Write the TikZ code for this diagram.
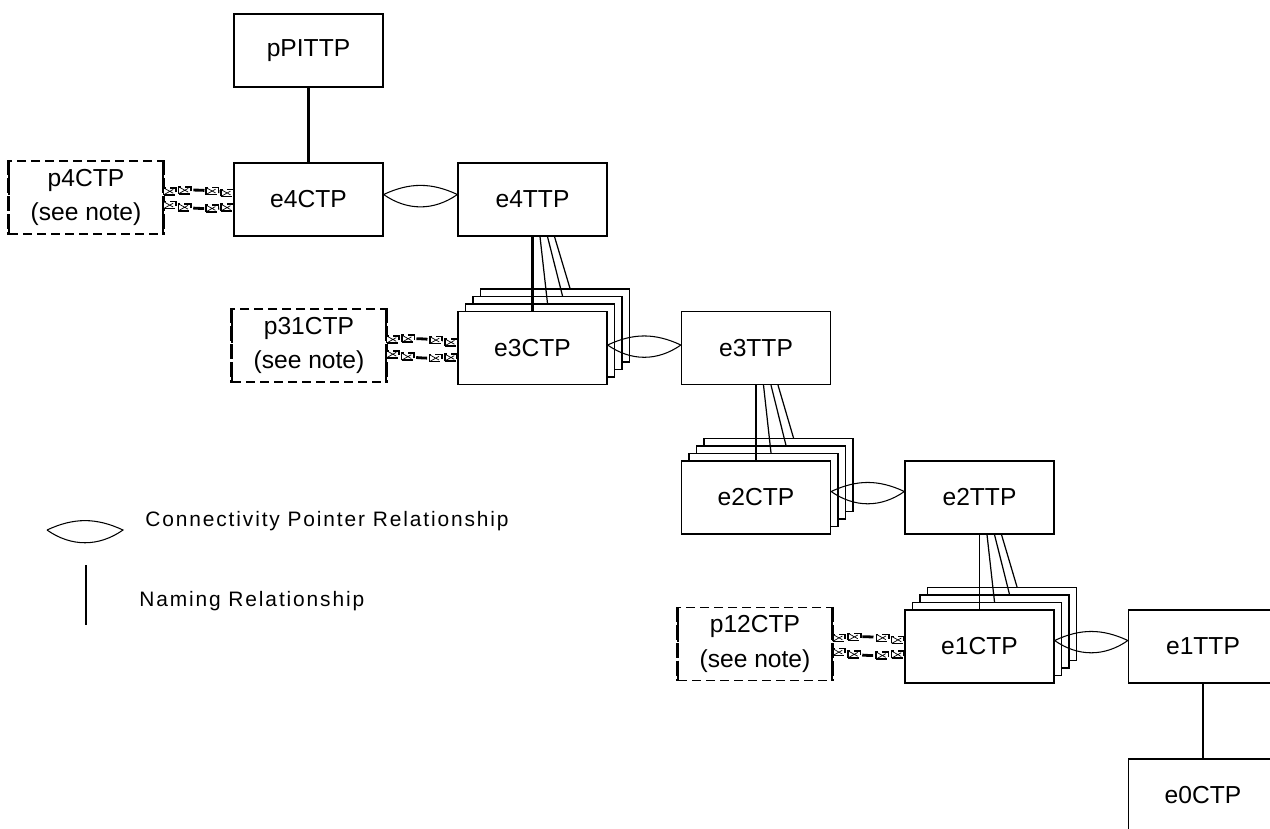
\documentclass[tikz,border=0pt]{standalone}
\usepackage{fontspec}
\setmainfont{Liberation Sans}
\newfontfamily\keyfont[LetterSpace=9]{Liberation Sans}
\usepackage{tikz}

\begin{document}
\begin{tikzpicture}[
    font=\fontsize{14}{17.6}\selectfont,
    box/.style={draw, fill=white, line width=0.7pt, minimum width=2.98cm, minimum height=1.46cm, inner sep=0pt, align=center},
    note/.style={draw, line width=0.6pt, dash pattern=on 0.18cm off 0.1cm, minimum width=3.08cm, minimum height=1.46cm, inner sep=0pt, align=center, font=\fontsize{14}{19.5}\selectfont},
    noteside/.style={line width=1.3pt, dash pattern=on 0.3cm off 0.06cm},
    named/.style={line width=0.7pt},
    namedthick/.style={line width=1.4pt},
    ptr/.style={line width=0.6pt},
    link/.style={line width=1.6pt, dash pattern=on 0.22cm off 0.08cm},
    xbox/.style={draw, fill=white, line width=0.9pt, inner sep=0pt, minimum width=0.25cm, minimum height=0.14cm,
      path picture={\draw[line width=0.4pt] (path picture bounding box.south west) -- (path picture bounding box.north east)
        (path picture bounding box.north west) -- (path picture bounding box.south east);}},
    key/.style={anchor=west, inner sep=0pt, font=\keyfont\fontsize{11.9}{14}\selectfont}
  ]
  \useasboundingbox (0,0) rectangle (25.4,-16.56);
  \clip (0,0) rectangle (25.4,-16.56);

  \node[box] (ppi) at (6.17,-1.01) {pPITTP};
  \node[box] (e4c) at (6.17,-3.99) {e4CTP};
  \node[box] (e4t) at (10.65,-3.99) {e4TTP};

  \node[box] (e3c3) at (11.10,-6.51) {};
  \node[box] (e3c2) at (10.95,-6.66) {};
  \node[box] (e3c1) at (10.80,-6.81) {};
  \node[box] (e3c) at (10.65,-6.96) {e3CTP};
  \node[box] (e3t) at (15.12,-6.96) {e3TTP};

  \node[box] (e2c3) at (15.57,-9.50) {};
  \node[box] (e2c2) at (15.42,-9.65) {};
  \node[box] (e2c1) at (15.27,-9.80) {};
  \node[box] (e2c) at (15.12,-9.95) {e2CTP};
  \node[box] (e2t) at (19.59,-9.95) {e2TTP};

  \node[box] (e1c3) at (20.04,-12.48) {};
  \node[box] (e1c2) at (19.89,-12.63) {};
  \node[box] (e1c1) at (19.74,-12.78) {};
  \node[box] (e1c) at (19.59,-12.93) {e1CTP};
  \node[box] (e1t) at (24.06,-12.93) {e1TTP};
  \node[box] (e0c) at (24.06,-15.91) {e0CTP};

  \node[note] (p4) at (1.72,-3.95) {p4CTP\\(see note)};
  \node[note] (p31) at (6.18,-6.91) {p31CTP\\(see note)};
  \node[note] (p12) at (15.10,-12.88) {p12CTP\\(see note)};
  \draw[noteside] (p4.north west) -- (p4.south west) (p4.north east) -- (p4.south east);
  \draw[noteside] (p31.north west) -- (p31.south west) (p31.north east) -- (p31.south east);
  \draw[noteside] (p12.north west) -- (p12.south west) (p12.north east) -- (p12.south east);

  \draw[namedthick] (ppi) -- (e4c);
  \draw[namedthick] (e4t) -- (e3c);
  \draw[named] ([xshift=0.15cm]e4t.south) -- ([xshift=0.15cm]e3c1.north);
  \draw[named] ([xshift=0.3cm]e4t.south) -- ([xshift=0.3cm]e3c2.north);
  \draw[named] ([xshift=0.44cm]e4t.south) -- ([xshift=0.3cm]e3c3.north);
  \draw[named] (e3t) -- (e2c);
  \draw[named] ([xshift=0.15cm]e3t.south) -- ([xshift=0.15cm]e2c1.north);
  \draw[named] ([xshift=0.3cm]e3t.south) -- ([xshift=0.3cm]e2c2.north);
  \draw[named] ([xshift=0.44cm]e3t.south) -- ([xshift=0.3cm]e2c3.north);
  \draw[named] (e2t) -- (e1c);
  \draw[named] ([xshift=0.15cm]e2t.south) -- ([xshift=0.15cm]e1c1.north);
  \draw[named] ([xshift=0.3cm]e2t.south) -- ([xshift=0.3cm]e1c2.north);
  \draw[named] ([xshift=0.44cm]e2t.south) -- ([xshift=0.3cm]e1c3.north);
  \draw[namedthick] (e1t) -- (e0c);

  \draw[ptr] ([yshift=0.1cm]e4c.east) to[bend left=25] ([yshift=0.1cm]e4t.west) to[bend left=35] ([yshift=0.1cm]e4c.east);
  \draw[ptr] ([yshift=0.06cm]e3c.east) to[bend left=25] ([yshift=0.06cm]e3t.west) to[bend left=35] ([yshift=0.06cm]e3c.east);
  \draw[ptr] ([yshift=0.12cm]e2c.east) to[bend left=25] ([yshift=0.12cm]e2t.west) to[bend left=35] ([yshift=0.12cm]e2c.east);
  \draw[ptr] ([yshift=0.12cm]e1c.east) to[bend left=25] ([yshift=0.12cm]e1t.west) to[bend left=35] ([yshift=0.12cm]e1c.east);

  \draw[link] ([yshift=0.11cm]p4.east) to[bend left=8] node[xbox,pos=0.08]{} node[xbox,pos=0.29]{} node[xbox,pos=0.71]{} node[xbox,pos=0.92]{} ([yshift=0.11cm]e4c.west);
  \draw[link] ([yshift=-0.13cm]p4.east) to[bend right=8] node[xbox,pos=0.08]{} node[xbox,pos=0.29]{} node[xbox,pos=0.71]{} node[xbox,pos=0.92]{} ([yshift=-0.15cm]e4c.west);
  \draw[link] ([yshift=0.11cm]p31.east) to[bend left=8] node[xbox,pos=0.08]{} node[xbox,pos=0.29]{} node[xbox,pos=0.71]{} node[xbox,pos=0.92]{} ([yshift=0.09cm]e3c.west);
  \draw[link] ([yshift=-0.15cm]p31.east) to[bend right=8] node[xbox,pos=0.08]{} node[xbox,pos=0.29]{} node[xbox,pos=0.71]{} node[xbox,pos=0.92]{} ([yshift=-0.18cm]e3c.west);
  \draw[link] ([yshift=0.11cm]p12.east) to[bend left=8] node[xbox,pos=0.08]{} node[xbox,pos=0.29]{} node[xbox,pos=0.71]{} node[xbox,pos=0.92]{} ([yshift=0.11cm]e1c.west);
  \draw[link] ([yshift=-0.14cm]p12.east) to[bend right=8] node[xbox,pos=0.08]{} node[xbox,pos=0.29]{} node[xbox,pos=0.71]{} node[xbox,pos=0.92]{} ([yshift=-0.15cm]e1c.west);

  \coordinate (keyl) at (0.94,-10.6);
  \coordinate (keyr) at (2.46,-10.6);
  \draw[ptr] (keyl) to[bend left=25] (keyr) to[bend left=35] (keyl);
  \node[key] (cpr) at (2.9,-10.42) {Connectivity Pointer Relationship};
  \coordinate (keytop) at (1.72,-11.3);
  \coordinate (keybot) at (1.72,-12.5);
  \draw[named] (keytop) -- (keybot);
  \node[key] (nrl) at (2.78,-12.02) {Naming Relationship};
\end{tikzpicture}
\end{document}
